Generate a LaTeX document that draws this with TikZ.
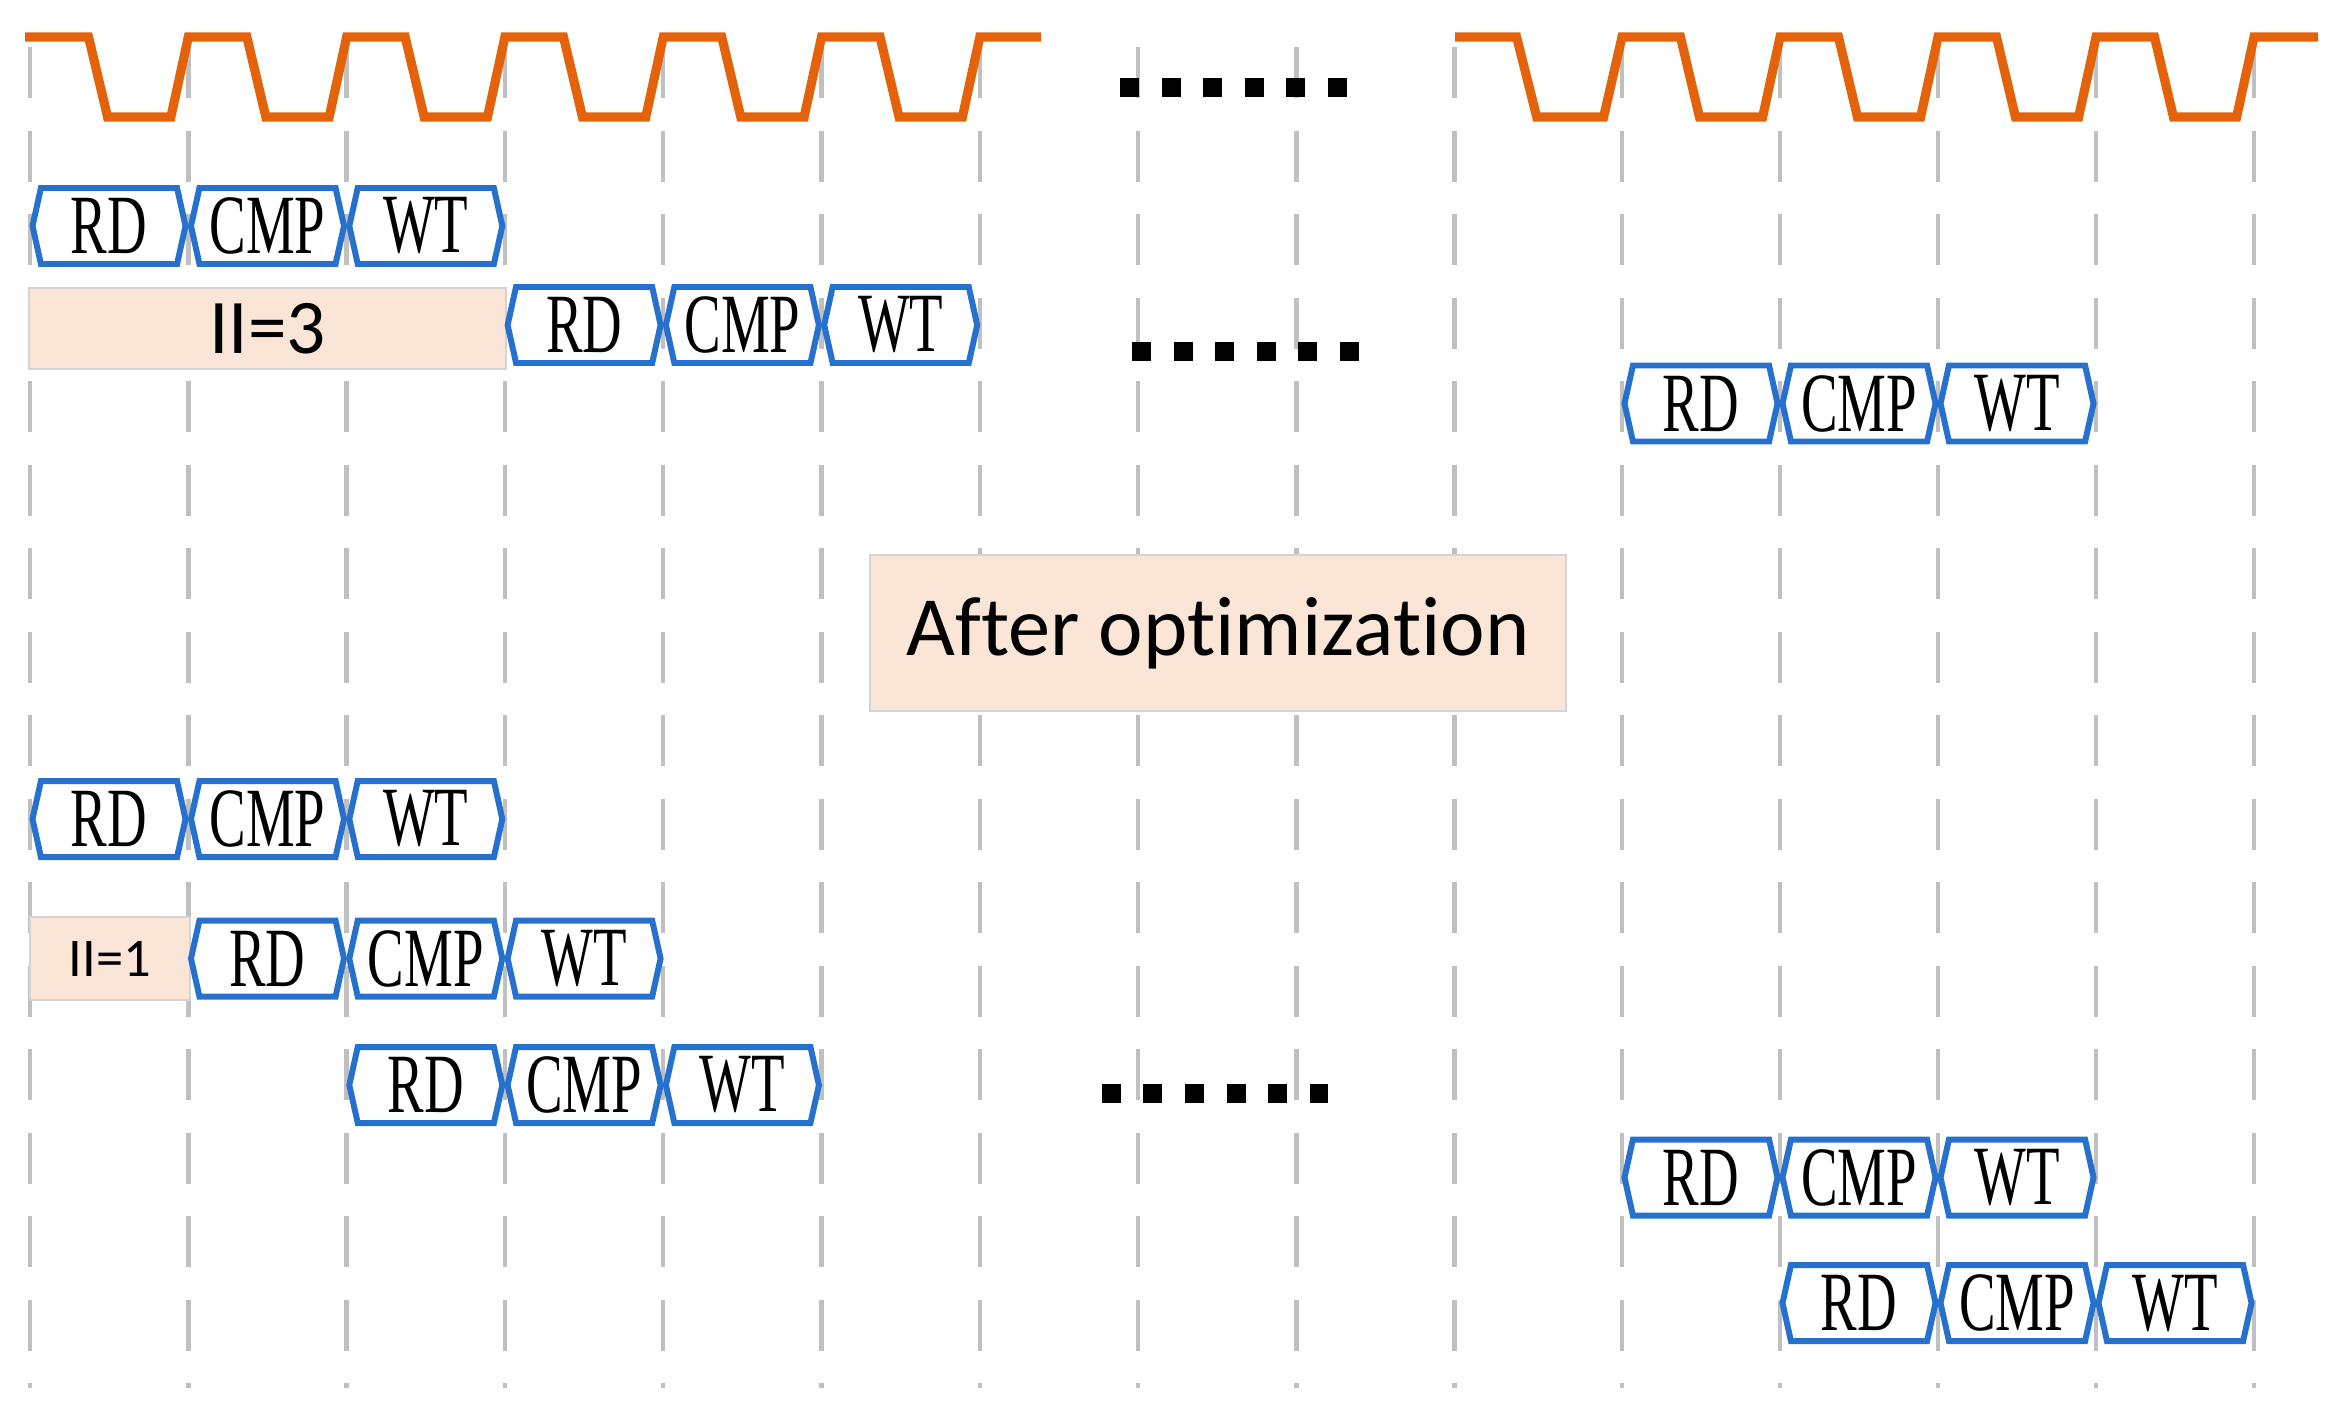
\documentclass[tikz,border=0pt]{standalone}
\usepackage{fontspec}
\usepackage{tikz}
\usetikzlibrary{shapes.symbols}
\newfontfamily\cellfont[FakeStretch=0.65]{Liberation Serif}
\newfontfamily\labelfont[Ligatures=NoCommon]{Carlito}
\definecolor{clk}{RGB}{228,98,10}
\definecolor{cellblue}{RGB}{38,112,206}
\definecolor{peach}{RGB}{251,229,214}
\definecolor{gridgray}{RGB}{192,192,192}
\definecolor{edgegray}{RGB}{212,212,212}

\begin{document}
\begin{tikzpicture}[x=1cm,y=-1cm,
  cell/.style={signal, signal to=east and west, signal pointer angle=155,
    draw=cellblue, line width=1.7pt, fill=white, inner sep=0pt,
    minimum width=1.53cm, minimum height=0.76cm,
    font=\cellfont\fontsize{24}{28}\selectfont},
  iibox/.style={draw=edgegray, line width=0.6pt, fill=peach, inner sep=0pt},
  gridline/.style={draw=gridgray, line width=1.3pt, dash pattern=on 0.51cm off 0.325cm},
  clockline/.style={draw=clk, line width=2.6pt},
  dotrow/.style={line width=0.19cm, dash pattern=on 0.19cm off 0.226cm}]
\useasboundingbox (0,0) rectangle (23.42,14.26);

% clock cycles
\foreach \x in {0.30,1.883,3.466,5.049,6.632,8.215,9.798,11.381,12.964,14.547,
  16.22,17.80,19.38,20.96,22.54}
  \draw[gridline] (\x,0.47) -- (\x,13.88);

\draw[clockline] (0.25,0.37)
  \foreach \a/\b in {0.30/1.883,1.883/3.466,3.466/5.049,5.049/6.632,6.632/8.215,8.215/9.798}
  { -- ({\a+0.37*(\b-\a)},0.37) -- ({\a+0.49*(\b-\a)},1.17)
    -- ({\a+0.89*(\b-\a)},1.17) -- (\b,0.37) } -- (10.41,0.37);
\draw[clockline] (14.55,0.37)
  \foreach \a/\b in {14.547/16.22,16.22/17.80,17.80/19.38,19.38/20.96,20.96/22.54}
  { -- ({\a+0.37*(\b-\a)},0.37) -- ({\a+0.49*(\b-\a)},1.17)
    -- ({\a+0.89*(\b-\a)},1.17) -- (\b,0.37) } -- (23.18,0.37);

\draw[dotrow] (11.20,0.875) -- (13.47,0.875);

% before optimization
\node[cell] (RDa) at (1.09,2.26) {RD};
\node[cell] (CMPa) at (2.675,2.26) {CMP};
\node[cell] (WTa) at (4.258,2.26) {WT};

\node[iibox, minimum width=4.77cm, minimum height=0.81cm,
  font=\labelfont\fontsize{22}{26}\selectfont] (IIthree) at (2.675,3.285) {II=3};
\node[cell] (RDb) at (5.841,3.25) {RD};
\node[cell] (CMPb) at (7.424,3.25) {CMP};
\node[cell] (WTb) at (9.007,3.25) {WT};

\draw[dotrow] (11.32,3.51) -- (13.59,3.51);

\node[cell] (RDc) at (17.01,4.035) {RD};
\node[cell] (CMPc) at (18.59,4.035) {CMP};
\node[cell] (WTc) at (20.17,4.035) {WT};

\node[iibox, minimum width=6.96cm, minimum height=1.56cm,
  font=\labelfont\fontsize{24}{28}\selectfont] (opt) at (12.18,6.33) {After optimization};

% after optimization
\node[cell] (RDd) at (1.09,8.19) {RD};
\node[cell] (CMPd) at (2.675,8.19) {CMP};
\node[cell] (WTd) at (4.258,8.19) {WT};

\node[iibox, minimum width=1.60cm, minimum height=0.83cm,
  font=\labelfont\fontsize{15.5}{18}\selectfont] (IIone) at (1.10,9.585) {II=1};
\node[cell] (RDe) at (2.675,9.585) {RD};
\node[cell] (CMPe) at (4.258,9.585) {CMP};
\node[cell] (WTe) at (5.841,9.585) {WT};

\node[cell] (RDf) at (4.258,10.85) {RD};
\node[cell] (CMPf) at (5.841,10.85) {CMP};
\node[cell] (WTf) at (7.424,10.85) {WT};

\draw[dotrow] (11.017,10.93) -- (13.28,10.93);

\node[cell] (RDg) at (17.01,11.775) {RD};
\node[cell] (CMPg) at (18.59,11.775) {CMP};
\node[cell] (WTg) at (20.17,11.775) {WT};

\node[cell] (RDh) at (18.59,13.03) {RD};
\node[cell] (CMPh) at (20.17,13.03) {CMP};
\node[cell] (WTh) at (21.75,13.03) {WT};
\end{tikzpicture}
\end{document}
